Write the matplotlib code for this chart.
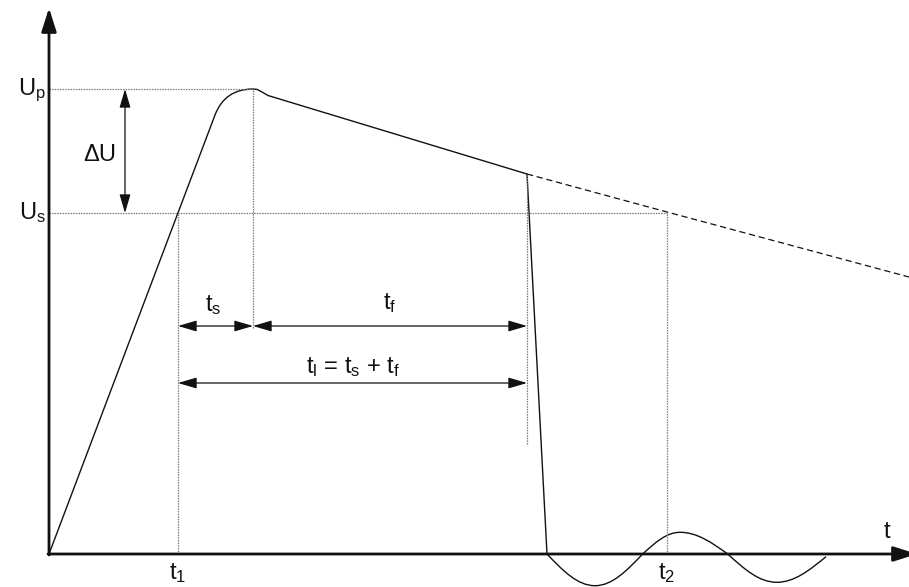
import numpy as np
import matplotlib
matplotlib.use("Agg")
import matplotlib.pyplot as plt
from matplotlib.path import Path
from matplotlib.patches import PathPatch

plt.rcParams["font.family"] = ["Liberation Sans", "DejaVu Sans"]
plt.rcParams["mathtext.default"] = "regular"

# --- voltage levels and time marks (diagram units) ---
U_p = 465          # peak voltage
U_s = 341          # sparkover voltage
t_1 = 129          # time the rising front reaches U_s
t_peak = 204       # time of the peak (end of t_s)
t_chop = 478       # time the wave is chopped (end of t_f)
t_2 = 618          # time the undisturbed tail would fall back to U_s

# straight part of the rising front
rise_t = [0, 166]
rise_u = [0, 439]
# tail from the crest to the chopping instant
tail_t = [208, 213, 219, 478]
tail_u = [464.6, 462, 458.5, 380]
# collapse of the voltage after chopping
fall_t = [478, 498]
fall_u = [380, 0]
# continuation of the undisturbed tail
ext_t = [478, 618, 860]
ext_u = [380, 342, 277]
# ringing after the collapse: zero crossings and extrema
ring_t = [497.7, 546, 593.7, 631, 678.7, 727.7, 777]
ring_u = [0, -31.7, 0, 21.7, 0, -28.3, -2.7]


def wave_path():
    verts = [(rise_t[0], rise_u[0])]
    codes = [Path.MOVETO]
    verts.append((rise_t[1], rise_u[1]))
    codes.append(Path.LINETO)
    # rounded crest: tangent to the front, horizontal at the peak
    corner_t = rise_t[1] * U_p / rise_u[1]
    verts += [(corner_t, U_p), (t_peak, U_p)]
    codes += [Path.CURVE3] * 2
    for t, u in zip(tail_t, tail_u):
        verts.append((t, u))
        codes.append(Path.LINETO)
    verts.append((fall_t[1], fall_u[1]))
    codes.append(Path.LINETO)
    # ringing drawn as sine-like quarter arcs between the knots
    for i in range(len(ring_t) - 1):
        x0, y0 = ring_t[i], ring_u[i]
        x1, y1 = ring_t[i + 1], ring_u[i + 1]
        d = x1 - x0
        if abs(y0) < 1e-6:          # crossing -> extremum
            c1 = (x0 + 0.3343 * d, y0 + 0.5251 * (y1 - y0))
            c2 = (x0 + 0.6378 * d, y1)
        else:                        # extremum -> crossing
            c1 = (x0 + 0.3622 * d, y0)
            c2 = (x0 + 0.6657 * d, y1 + 0.5251 * (y0 - y1))
        verts += [c1, c2, (x1, y1)]
        codes += [Path.CURVE4] * 3
    return Path(verts, codes)


fig = plt.figure(figsize=(9.09, 5.87), dpi=100)
ax = fig.add_axes([0, 0, 1, 1])
ax.set_xlim(-49, 860)
ax.set_ylim(-33, 554)
ax.axis("off")

blk = "#111111"
dot = dict(color="#7a7a7a", lw=0.9, ls=(0, (1.2, 0.9)))

# reference (dotted) lines
ax.plot([0, t_peak], [U_p, U_p], **dot)
ax.plot([0, t_2], [U_s, U_s], **dot)
ax.plot([t_1, t_1], [0, U_s], **dot)
ax.plot([t_peak, t_peak], [226, U_p], **dot)
ax.plot([t_chop, t_chop], [110, 380], **dot)
ax.plot([t_2, t_2], [0, U_s], **dot)

# voltage wave
ax.add_patch(PathPatch(wave_path(), fc="none", ec=blk, lw=1.0,
                       joinstyle="round"))
ax.plot(ext_t, ext_u, color=blk, lw=0.9, ls=(0, (5, 3)))

# coordinate axes
axis_arrow = dict(arrowstyle="-|>,head_length=1.1,head_width=0.35",
                  mutation_scale=13, lw=2.0, color=blk, shrinkA=0, shrinkB=0)
ax.annotate("", xy=(0, 546), xytext=(0, -1), arrowprops=axis_arrow)
ax.annotate("", xy=(868, 0), xytext=(-1, 0), arrowprops=axis_arrow,
            annotation_clip=False)

# dimension arrows
dim = dict(arrowstyle="<|-|>,head_length=0.95,head_width=0.28",
           mutation_scale=12, lw=0.9, color=blk, shrinkA=0, shrinkB=0)
ax.annotate("", xy=(76, U_p), xytext=(76, U_s), arrowprops=dim)
ax.annotate("", xy=(t_1, 228), xytext=(t_peak, 228), arrowprops=dim)
ax.annotate("", xy=(t_peak, 228), xytext=(t_chop, 228), arrowprops=dim)
ax.annotate("", xy=(t_1, 171), xytext=(t_chop, 171), arrowprops=dim)

# labels
fs = 17
txt = dict(fontsize=fs, color=blk, ha="center", va="center")
ax.text(-17, 464, "$U_p$", **txt)
ax.text(-17, 341, "$U_s$", **txt)
ax.text(51, 399, "ΔU", **txt)
ax.text(164, 249, "$t_s$", **txt)
ax.text(341, 251, "$t_f$", **txt)
ax.text(304, 187, "$t_l$ = $t_s$ + $t_f$", **txt)
ax.text(129, -19, "$t_1$", **txt)
ax.text(618, -19, "$t_2$", **txt)
ax.text(838, 22, "t", **txt)

fig.savefig("out.png", dpi=100)
